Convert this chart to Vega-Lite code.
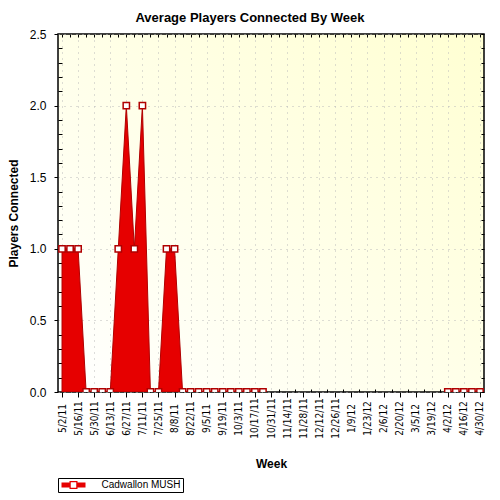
{
  "$schema": "https://vega.github.io/schema/vega-lite/v6.json",
  "autosize": "none",
  "width": 426,
  "height": 358,
  "padding": {"left": 58, "top": 34, "right": 16, "bottom": 108},
  "background": "white",
  "title": {
    "text": "Average Players Connected By Week",
    "font": "Liberation Sans",
    "fontSize": 13,
    "fontWeight": "bold",
    "color": "black",
    "anchor": "middle",
    "dx": -21,
    "offset": 3
  },
  "config": {
    "view": {
      "stroke": "black",
      "strokeWidth": 1.5,
      "fill": {
        "gradient": "linear",
        "x1": 0, "y1": 1, "x2": 1, "y2": 0,
        "stops": [
          {"offset": 0, "color": "#FFFFFF"},
          {"offset": 1, "color": "#FFFFD2"}
        ]
      }
    }
  },
  "data": {
    "values": [
      {"week": "5/2/11", "players": 1, "segment": "A", "series": "Cadwallon MUSH"},
      {"week": "5/9/11", "players": 1, "segment": "A", "series": "Cadwallon MUSH"},
      {"week": "5/16/11", "players": 1, "segment": "A", "series": "Cadwallon MUSH"},
      {"week": "5/23/11", "players": 0, "segment": "A", "series": "Cadwallon MUSH"},
      {"week": "5/30/11", "players": 0, "segment": "A", "series": "Cadwallon MUSH"},
      {"week": "6/6/11", "players": 0, "segment": "A", "series": "Cadwallon MUSH"},
      {"week": "6/13/11", "players": 0, "segment": "A", "series": "Cadwallon MUSH"},
      {"week": "6/20/11", "players": 1, "segment": "A", "series": "Cadwallon MUSH"},
      {"week": "6/27/11", "players": 2, "segment": "A", "series": "Cadwallon MUSH"},
      {"week": "7/4/11", "players": 1, "segment": "A", "series": "Cadwallon MUSH"},
      {"week": "7/11/11", "players": 2, "segment": "A", "series": "Cadwallon MUSH"},
      {"week": "7/18/11", "players": 0, "segment": "A", "series": "Cadwallon MUSH"},
      {"week": "7/25/11", "players": 0, "segment": "A", "series": "Cadwallon MUSH"},
      {"week": "8/1/11", "players": 1, "segment": "A", "series": "Cadwallon MUSH"},
      {"week": "8/8/11", "players": 1, "segment": "A", "series": "Cadwallon MUSH"},
      {"week": "8/15/11", "players": 0, "segment": "A", "series": "Cadwallon MUSH"},
      {"week": "8/22/11", "players": 0, "segment": "A", "series": "Cadwallon MUSH"},
      {"week": "8/29/11", "players": 0, "segment": "A", "series": "Cadwallon MUSH"},
      {"week": "9/5/11", "players": 0, "segment": "A", "series": "Cadwallon MUSH"},
      {"week": "9/12/11", "players": 0, "segment": "A", "series": "Cadwallon MUSH"},
      {"week": "9/19/11", "players": 0, "segment": "A", "series": "Cadwallon MUSH"},
      {"week": "9/26/11", "players": 0, "segment": "A", "series": "Cadwallon MUSH"},
      {"week": "10/3/11", "players": 0, "segment": "A", "series": "Cadwallon MUSH"},
      {"week": "10/10/11", "players": 0, "segment": "A", "series": "Cadwallon MUSH"},
      {"week": "10/17/11", "players": 0, "segment": "A", "series": "Cadwallon MUSH"},
      {"week": "10/24/11", "players": 0, "segment": "A", "series": "Cadwallon MUSH"},
      {"week": "4/2/12", "players": 0, "segment": "B", "series": "Cadwallon MUSH"},
      {"week": "4/9/12", "players": 0, "segment": "B", "series": "Cadwallon MUSH"},
      {"week": "4/16/12", "players": 0, "segment": "B", "series": "Cadwallon MUSH"},
      {"week": "4/23/12", "players": 0, "segment": "B", "series": "Cadwallon MUSH"},
      {"week": "4/30/12", "players": 0, "segment": "B", "series": "Cadwallon MUSH"}
    ]
  },
  "resolve": {"axis": {"x": "independent", "y": "independent"}},
  "layer": [
    {
      "mark": {"type": "area", "stroke": "#B00000", "strokeWidth": 1, "opacity": 1, "clip": true},
      "encoding": {
        "x": {
          "field": "week",
          "type": "ordinal",
          "scale": {"domain": ["5/2/11","5/9/11","5/16/11","5/23/11","5/30/11","6/6/11","6/13/11","6/20/11","6/27/11","7/4/11","7/11/11","7/18/11","7/25/11","8/1/11","8/8/11","8/15/11","8/22/11","8/29/11","9/5/11","9/12/11","9/19/11","9/26/11","10/3/11","10/10/11","10/17/11","10/24/11","10/31/11","11/7/11","11/14/11","11/21/11","11/28/11","12/5/11","12/12/11","12/19/11","12/26/11","1/2/12","1/9/12","1/16/12","1/23/12","1/30/12","2/6/12","2/13/12","2/20/12","2/27/12","3/5/12","3/12/12","3/19/12","3/26/12","4/2/12","4/9/12","4/16/12","4/23/12","4/30/12"]},
          "axis": {
            "orient": "bottom",
            "domain": false,
            "labelExpr": "indexof(domain('x'), datum.value) % 2 == 0 ? datum.label : ''",
            "labelAngle": 270,
            "labelAlign": "center",
            "labelBaseline": "middle",
            "labelPadding": 21,
            "labelOverlap": false,
            "labelFont": "Liberation Sans Narrow, Arial Narrow, DejaVu Sans Condensed, sans-serif",
            "labelFontSize": 10,
            "labelColor": "black",
            "tickColor": "black",
            "tickSize": {"condition": {"test": "indexof(domain('x'), datum.value) % 2 == 0", "value": 5}, "value": -3},
            "grid": true,
            "gridColor": "#BBBBBB",
            "gridDash": [1, 5],
            "gridOpacity": {"condition": {"test": "indexof(domain('x'), datum.value) % 2 == 0", "value": 1}, "value": 0},
            "title": "Week",
            "titleFont": "Liberation Sans",
            "titleFontSize": 12,
            "titleFontWeight": "bold",
            "titleColor": "black",
            "titlePadding": 20
          }
        },
        "y": {
          "field": "players",
          "type": "quantitative",
          "stack": null,
          "scale": {"domain": [0, 2.5], "nice": false},
          "axis": {
            "orient": "left",
            "domain": false,
            "values": [0,0.1,0.2,0.3,0.4,0.5,0.6,0.7,0.8,0.9,1,1.1,1.2,1.3,1.4,1.5,1.6,1.7,1.8,1.9,2,2.1,2.2,2.3,2.4,2.5],
            "labelExpr": "abs(datum.value*2 - round(datum.value*2)) < 0.001 ? format(datum.value, '.1f') : ''",
            "labelOverlap": false,
            "labelFont": "Liberation Sans",
            "labelFontSize": 12,
            "labelColor": "black",
            "labelPadding": 8,
            "tickColor": "black",
            "tickSize": {"condition": {"test": "abs(datum.value*2 - round(datum.value*2)) < 0.001", "value": 4}, "value": -4},
            "grid": true,
            "gridColor": "#BBBBBB",
            "gridDash": [1, 5],
            "gridOpacity": {"condition": {"test": "abs(datum.value*2 - round(datum.value*2)) < 0.001", "value": 1}, "value": 0},
            "title": "Players Connected",
            "titleFont": "Liberation Sans",
            "titleFontSize": 12,
            "titleFontWeight": "bold",
            "titleColor": "black",
            "titlePadding": 9
          }
        },
        "detail": {"field": "segment"},
        "order": {"value": null},
        "color": {
          "field": "series",
          "type": "nominal",
          "scale": {"range": ["#E60000"]},
          "legend": {
            "orient": "none",
            "legendX": 0,
            "legendY": 444,
            "title": null,
            "padding": 2,
            "strokeColor": "black",
            "fillColor": "white",
            "symbolType": "M-2.4,-0.5H-0.8V-0.8H0.8V-0.5H2.4V0.5H0.8V0.8H-0.8V0.5H-2.4Z M-0.55,-0.55V0.55H0.55V-0.55Z",
            "symbolSize": 100,
            "symbolStrokeWidth": 0,
            "symbolOpacity": 1,
            "symbolOffset": 8.5,
            "labelOffset": 23,
            "labelFont": "Liberation Sans",
            "labelFontSize": 10,
            "labelColor": "black",
            "labelExpr": "datum.label + '\u00a0\u00a0\u00a0'"
          }
        }
      }
    },
    {
      "mark": {"type": "point", "shape": "square", "filled": true, "fill": "white", "stroke": "#B00000", "strokeWidth": 1.5, "size": 40, "opacity": 1, "clip": true},
      "encoding": {
        "x": {
          "field": "week",
          "type": "ordinal",
          "axis": {"orient": "top", "labels": false, "domain": false, "grid": false, "tickSize": -3, "tickColor": "black", "title": null}
        },
        "y": {
          "field": "players",
          "type": "quantitative",
          "axis": {
            "orient": "right",
            "labels": false,
            "domain": false,
            "grid": false,
            "values": [0,0.1,0.2,0.3,0.4,0.5,0.6,0.7,0.8,0.9,1,1.1,1.2,1.3,1.4,1.5,1.6,1.7,1.8,1.9,2,2.1,2.2,2.3,2.4,2.5],
            "tickSize": -3,
            "tickColor": "black",
            "title": null
          }
        }
      }
    }
  ]
}
